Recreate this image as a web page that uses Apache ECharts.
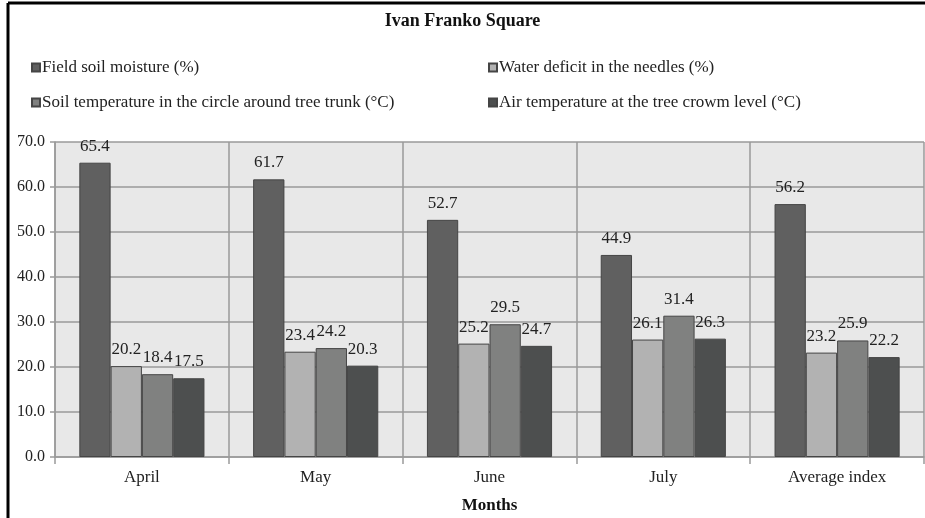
<!DOCTYPE html>
<html>
<head>
<meta charset="utf-8">
<script src="https://cdn.jsdelivr.net/npm/echarts@6/dist/echarts.min.js"></script>
<style>html,body{margin:0;padding:0;background:#fff;}#c{width:925px;height:518px;}</style>
</head>
<body>
<div id="c"></div>
<script>
var categories = ['April', 'May', 'June', 'July', 'Average index'];
var seriesNames = [
  'Field soil moisture (%)',
  'Water deficit in the needles (%)',
  'Soil temperature in the circle around tree trunk (\u00B0C)',
  'Air temperature at the tree crowm level (\u00B0C)'
];
var fieldSoilMoisture = [65.4, 61.7, 52.7, 44.9, 56.2];
var waterDeficit = [20.2, 23.4, 25.2, 26.1, 23.2];
var soilTemperature = [18.4, 24.2, 29.5, 31.4, 25.9];
var airTemperature = [17.5, 20.3, 24.7, 26.3, 22.2];
var yTicks = [0, 10, 20, 30, 40, 50, 60, 70];

var colors = ['#606060', '#b2b2b2', '#808180', '#4d4f4f'];
var values = [fieldSoilMoisture, waterDeficit, soilTemperature, airTemperature];
var font = '"Liberation Serif", "Times New Roman", serif';

var chart = echarts.init(document.getElementById('c'), null, {renderer: 'canvas'});
var series = values.map(function (v, i) {
  return {
    name: seriesNames[i],
    type: 'bar',
    data: v,
    barGap: '0%',
    barCategoryGap: '28%',
    itemStyle: {color: colors[i], borderColor: '#454545', borderWidth: 1},
    label: {
      show: true, position: 'top', distance: 8,
      fontFamily: font, fontSize: 17, color: '#222',
      formatter: function (p) { return p.value.toFixed(1); }
    }
  };
});

var legendPos = [[26, 54], [483, 54], [26, 89], [483, 89]];
var legends = seriesNames.map(function (n, i) {
  return {
    data: [n], left: legendPos[i][0], top: legendPos[i][1],
    icon: 'rect', itemWidth: 8, itemHeight: 8, itemGap: 0,
    textStyle: {fontFamily: font, fontSize: 17, color: '#222', padding: [0, 0, 0, -3]},
    selectedMode: false
  };
});

chart.setOption({
  animation: false,
  backgroundColor: '#fff',
  title: {
    text: 'Ivan Franko Square', left: 'center', top: 7,
    textStyle: {fontFamily: font, fontSize: 18, fontWeight: 'bold', color: '#111'}
  },
  legend: legends,
  grid: {
    left: 55, right: 1, top: 142, bottom: 61,
    outerBoundsMode: 'none', containLabel: false,
    show: true, backgroundColor: '#e8e8e8', borderWidth: 0
  },
  xAxis: {
    type: 'category', data: categories,
    name: 'Months', nameLocation: 'middle', nameGap: 40,
    nameTextStyle: {fontFamily: font, fontSize: 17, fontWeight: 'bold', color: '#111'},
    axisLine: {lineStyle: {color: '#9a9a9a', width: 1.5}},
    axisTick: {show: true, length: 7, lineStyle: {color: '#9a9a9a', width: 1.5}},
    axisLabel: {fontFamily: font, fontSize: 17, color: '#222', margin: 12},
    splitLine: {show: true, lineStyle: {color: '#9a9a9a', width: 1.5}}
  },
  yAxis: {
    type: 'value', min: yTicks[0], max: yTicks[yTicks.length - 1], interval: 10,
    axisLine: {show: true, lineStyle: {color: '#9a9a9a', width: 1.5}},
    axisTick: {show: true, length: 5, lineStyle: {color: '#9a9a9a', width: 1.5}},
    axisLabel: {fontFamily: font, fontSize: 16, color: '#222', margin: 10,
      formatter: function (v) { return v.toFixed(1); }},
    splitLine: {show: true, lineStyle: {color: '#9a9a9a', width: 1.5}}
  },
  graphic: [
    {type: 'line', shape: {x1: 8, y1: 3, x2: 8, y2: 518}, style: {stroke: '#000', lineWidth: 3}},
    {type: 'line', shape: {x1: 8, y1: 3, x2: 925, y2: 3}, style: {stroke: '#000', lineWidth: 3}}
  ],
  series: series
});
</script>
</body>
</html>
